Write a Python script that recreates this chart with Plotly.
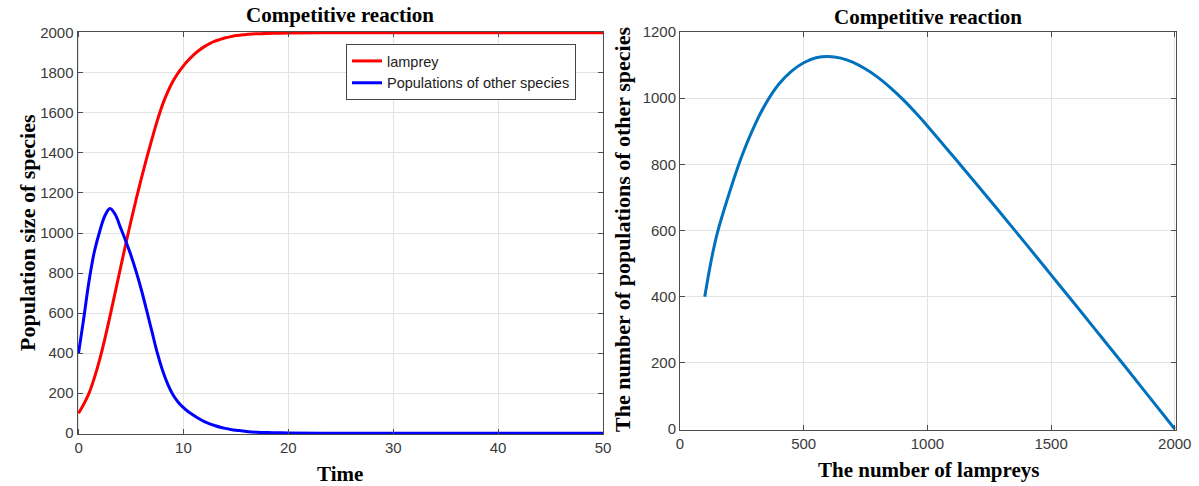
import plotly.graph_objects as go

# ---- data ----
time_pts = [0, 0.5, 1, 1.5, 2, 2.5, 3, 3.5, 4, 4.5, 5, 5.5, 6, 6.5, 7, 7.5, 8, 8.5, 9, 9.5,
            10, 10.5, 11, 11.5, 12, 12.5, 13, 13.5, 14, 14.5, 15, 15.5, 16, 17, 18, 19, 20, 25, 30, 40, 50]
lamprey = [100, 145, 200, 275, 365, 470, 585, 705, 825, 945, 1060, 1170, 1275, 1375, 1470, 1560,
           1640, 1705, 1758, 1800, 1835, 1865, 1891, 1913, 1931, 1946, 1958, 1967, 1975, 1981, 1986,
           1989, 1992, 1995, 1997, 1998, 1999, 2000, 2000, 2000, 2000]
others = [400, 575, 760, 905, 1005, 1085, 1122, 1092, 1027, 960, 888, 806, 714, 612, 507, 402,
          315, 245, 192, 155, 128, 106, 88, 72, 58, 47, 38, 30, 24, 19, 15, 12, 9, 5, 3, 2, 1, 0, 0, 0, 0]

phase_lamprey = [100, 125, 150, 200, 250, 300, 350, 400, 450, 500, 550, 600, 650, 700, 750, 800, 850,
                 900, 950, 1000, 1100, 1200, 1300, 1400, 1500, 1600, 1700, 1800, 1900, 2000]
phase_others = [400, 505, 590, 715, 825, 915, 988, 1043, 1081, 1107, 1122, 1126, 1121, 1108, 1088,
                1063, 1032, 997, 958, 916, 828, 739, 649, 558, 466, 374, 281, 188, 94, 0]

left_xticks = [0, 10, 20, 30, 40, 50]
left_yticks = [0, 200, 400, 600, 800, 1000, 1200, 1400, 1600, 1800, 2000]
right_xticks = [0, 500, 1000, 1500, 2000]
right_yticks = [0, 200, 400, 600, 800, 1000, 1200]

title_text = "Competitive reaction"

W, H = 1199, 486
def px_x(p):
    return p / W
def px_y(p):
    return 1 - p / H

fig = go.Figure()
fig.add_trace(go.Scatter(x=time_pts, y=lamprey, mode="lines", name="lamprey",
                         line=dict(color="#ff0000", width=3, shape="spline", smoothing=1.0),
                         xaxis="x", yaxis="y"))
fig.add_trace(go.Scatter(x=time_pts, y=others, mode="lines", name="Populations of other species",
                         line=dict(color="#0000ff", width=3, shape="spline", smoothing=1.0),
                         xaxis="x", yaxis="y"))
fig.add_trace(go.Scatter(x=phase_lamprey, y=phase_others, mode="lines", showlegend=False,
                         line=dict(color="#0072BD", width=3, shape="spline", smoothing=1.0),
                         xaxis="x2", yaxis="y2"))

tickfont = dict(family="Liberation Sans, Arial", size=15, color="#3a3a3a")
axis_common = dict(showline=True, linecolor="#4d4d4d", linewidth=1, mirror="allticks",
                   ticks="inside", ticklen=5, tickcolor="#4d4d4d", showgrid=True,
                   gridcolor="#e3e3e3", gridwidth=1, zeroline=False, tickfont=tickfont,
                   automargin=False)

fig.update_layout(
    template="none",
    width=W, height=H, margin=dict(l=0, r=0, t=0, b=0, pad=0), autosize=False,
    paper_bgcolor="white", plot_bgcolor="white",
    xaxis=dict(domain=[px_x(77.5), px_x(603)], range=[-0.1, 50], tickvals=left_xticks,
               anchor="y", **axis_common),
    yaxis=dict(domain=[px_y(434), px_y(32)], range=[-4, 2004], tickvals=left_yticks,
               anchor="x", **axis_common),
    xaxis2=dict(domain=[px_x(680), px_x(1176)], range=[0, 2005], tickvals=right_xticks,
                anchor="y2", **axis_common),
    yaxis2=dict(domain=[px_y(430), px_y(32)], range=[-3, 1200], tickvals=right_yticks,
                anchor="x2", **axis_common),
    legend=dict(x=px_x(346), y=px_y(44), xanchor="left", yanchor="top",
                bgcolor="white", bordercolor="#444444", borderwidth=1,
                font=dict(family="Liberation Sans, Arial", size=14.5, color="#222222"),
                tracegroupgap=0),
    showlegend=True,
)

bold_serif = "Liberation Serif, Times New Roman"
def add_text(text, x, y, size, angle=0):
    return dict(text="<b>" + text + "</b>", x=px_x(x), y=px_y(y), xref="paper", yref="paper",
                xanchor="center", yanchor="middle", showarrow=False, textangle=angle,
                font=dict(family=bold_serif, size=size, color="#000000"))

ann = [
    add_text(title_text, 340, 15, 21),
    add_text(title_text, 928, 17, 21),
    add_text("Time", 340, 474, 21),
    add_text("The number of lampreys", 928, 470, 21),
    add_text("Population size of species", 27, 233, 22, -90),
    add_text("The number of populations of other species", 623, 230, 22, -90),
]
fig.update_layout(annotations=ann)

fig.write_html("out.html")
